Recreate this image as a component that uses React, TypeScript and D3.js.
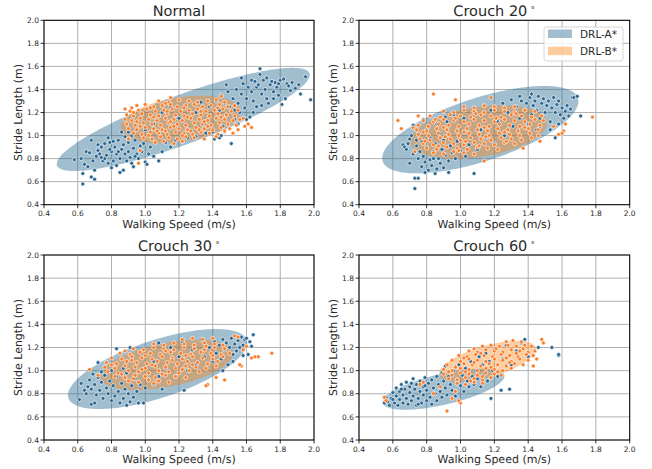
import React from 'react';
import * as d3 from 'd3';

const X_TICKS = [0.4, 0.6, 0.8, 1.0, 1.2, 1.4, 1.6, 1.8, 2.0];
const Y_TICKS = [0.4, 0.6, 0.8, 1.0, 1.2, 1.4, 1.6, 1.8, 2.0];
const SERIES = ['DRL-A*', 'DRL-B*'];
const TITLES = ['Normal', 'Crouch 20', 'Crouch 30', 'Crouch 60'];
const HAS_DEGREE = [false, true, true, true];

// ellipses: [cx, cy, semi-major, semi-minor, angle(deg)] in data units
const ELL_NORMAL_A = [1.225, 1.14, 0.85, 0.2, 29];
const ELL_NORMAL_B = [1.21, 1.14, 0.365, 0.19, 15];
const ELL_C20_A = [1.117, 1.051, 0.642, 0.26, 28];
const ELL_C20_B = [1.107, 1.03, 0.414, 0.213, 15];
const ELL_C30_A = [1.073, 1.014, 0.588, 0.236, 28];
const ELL_C30_B = [1.127, 1.049, 0.41, 0.185, 18];
const ELL_C60_A = [0.9, 0.84, 0.38, 0.13, 20];
const ELL_C60_B = [1.16, 1.08, 0.31, 0.13, 25];

// points: flat [x, y, x, y, ...]
const NORMAL_A = [
  0.58,0.79, 0.62,0.80, 0.63,0.58, 0.63,0.67, 0.64,0.75, 0.65,0.86, 0.66,0.73, 0.67,0.85, 0.68,0.64, 0.68,0.96,
  0.69,0.78, 0.70,0.62, 0.70,0.70, 0.71,0.82, 0.72,0.87, 0.72,0.92, 0.73,0.84, 0.74,0.90, 0.75,0.78, 0.76,0.80,
  0.76,0.93, 0.77,0.83, 0.78,0.76, 0.78,0.98, 0.79,0.94, 0.80,0.86, 0.80,0.72, 0.81,0.78, 0.82,0.90, 0.83,0.84,
  0.83,0.74, 0.84,0.96, 0.85,0.80, 0.85,0.68, 0.86,0.88, 0.86,1.03, 0.87,0.92, 0.87,0.70, 0.88,0.84, 0.88,0.99,
  0.89,0.78, 0.90,0.94, 0.90,0.86, 0.90,1.03, 0.91,0.81, 0.92,1.00, 0.92,0.76, 0.93,0.89, 0.93,0.73, 0.94,0.96,
  0.95,0.84, 0.96,0.80, 0.97,0.91, 0.98,0.86, 1.00,0.77, 1.01,0.75, 1.02,0.84, 1.03,0.90, 1.05,0.82, 1.08,0.78,
  1.10,0.86, 1.12,0.94, 1.15,0.90, 1.18,0.96, 1.22,0.95, 1.25,0.98, 1.30,0.99, 0.74,0.81, 0.79,0.88, 0.84,0.86,
  0.94,0.82, 0.99,0.93, 0.81,0.95,
  1.00,1.05, 1.05,1.10, 1.10,1.20, 1.15,1.25, 1.20,1.15, 1.25,1.05, 1.30,1.20, 1.35,1.10, 1.38,1.25, 1.40,1.03,
  1.42,1.15, 1.33,1.29, 1.36,1.02, 1.44,0.98,
  1.41,0.97, 1.42,1.30, 1.44,1.22, 1.45,1.35, 1.45,1.00, 1.46,1.08, 1.47,1.28, 1.48,1.18, 1.48,1.44, 1.49,1.38,
  1.50,1.25, 1.51,0.93, 1.52,1.32, 1.53,1.14, 1.53,1.22, 1.54,1.40, 1.55,1.28, 1.55,1.10, 1.56,1.20, 1.57,1.36,
  1.57,1.50, 1.58,1.45, 1.59,1.24, 1.60,1.32, 1.60,1.14, 1.61,1.42, 1.62,1.16, 1.63,1.38, 1.63,1.48, 1.64,1.30,
  1.64,1.20, 1.65,1.47, 1.66,1.25, 1.66,1.42, 1.67,1.44, 1.68,1.53, 1.68,1.58, 1.69,1.36, 1.69,1.26, 1.70,1.48,
  1.71,1.40, 1.72,1.32, 1.72,1.50, 1.73,1.28, 1.74,1.44, 1.75,1.47, 1.76,1.38, 1.76,1.32, 1.77,1.46, 1.78,1.42,
  1.79,1.35, 1.79,1.45, 1.80,1.48, 1.81,1.27, 1.82,1.49, 1.83,1.32, 1.84,1.45, 1.85,1.43, 1.86,1.39, 1.87,1.46,
  1.89,1.41, 1.91,1.44, 1.92,1.36, 1.95,1.51, 1.98,1.31,
];
const NORMAL_B = [
  0.88,1.23, 0.92,1.24, 0.96,0.76, 1.12,1.28, 1.15,1.33, 1.58,1.15, 1.59,1.08, 1.63,1.07, 1.61,1.10, 1.45,1.34,
  0.97,0.87, 0.90,0.97, 1.52,1.02, 1.55,1.05,
  1.08,1.30, 1.14,1.29, 1.20,1.31, 1.26,1.30, 1.31,1.29, 1.37,1.30, 1.42,1.31, 1.47,1.29,
  0.95,1.26, 1.00,1.27, 1.05,1.25, 1.10,1.26, 1.15,1.27, 1.19,1.25, 1.24,1.26, 1.29,1.27, 1.34,1.25, 1.39,1.26,
  1.44,1.27, 1.49,1.25, 1.53,1.26,
  0.91,1.21, 0.96,1.22, 1.01,1.23, 1.06,1.21, 1.11,1.22, 1.16,1.23, 1.21,1.21, 1.26,1.22, 1.31,1.23, 1.36,1.21,
  1.41,1.22, 1.46,1.23, 1.51,1.21, 1.55,1.22,
  0.89,1.18, 0.93,1.17, 0.98,1.19, 1.03,1.18, 1.08,1.17, 1.13,1.19, 1.18,1.18, 1.23,1.17, 1.28,1.19, 1.33,1.18,
  1.38,1.17, 1.43,1.19, 1.48,1.18, 1.53,1.17,
  0.88,1.14, 0.92,1.13, 0.97,1.15, 1.02,1.14, 1.07,1.13, 1.12,1.15, 1.17,1.14, 1.22,1.13, 1.27,1.15, 1.32,1.14,
  1.37,1.13, 1.42,1.15, 1.47,1.14, 1.52,1.13, 1.56,1.14,
  0.89,1.10, 0.94,1.09, 0.99,1.11, 1.04,1.10, 1.09,1.09, 1.14,1.11, 1.19,1.10, 1.24,1.09, 1.29,1.11, 1.34,1.10,
  1.39,1.09, 1.44,1.11, 1.49,1.10, 1.54,1.09,
  0.90,1.06, 0.95,1.05, 1.00,1.07, 1.05,1.06, 1.10,1.05, 1.15,1.07, 1.20,1.06, 1.25,1.05, 1.30,1.07, 1.35,1.06,
  1.40,1.05, 1.45,1.07, 1.50,1.06,
  0.93,1.02, 0.98,1.01, 1.03,1.03, 1.08,1.02, 1.13,1.01, 1.18,1.03, 1.23,1.02, 1.28,1.01, 1.33,1.03, 1.38,1.02,
  1.43,1.01, 1.47,1.03,
  0.99,0.98, 1.04,0.97, 1.09,0.99, 1.14,0.98, 1.19,0.97, 1.24,0.99, 1.29,0.98, 1.35,0.97,
  1.06,0.94, 1.11,0.95, 1.17,0.93, 1.22,0.95,
  0.93,1.20, 1.03,1.24, 1.13,1.21, 1.23,1.24, 1.33,1.21, 1.43,1.24, 0.95,1.12, 1.05,1.16, 1.15,1.12, 1.25,1.16,
  1.35,1.12, 1.45,1.16, 0.97,1.08, 1.07,1.04, 1.17,1.08, 1.27,1.04, 1.37,1.08, 1.47,1.04, 1.02,1.00, 1.12,1.04,
  1.22,1.00, 1.32,1.05, 1.42,0.99,
];
const C20_A = [
  0.66,0.92, 0.67,0.90, 0.68,0.88, 0.69,0.93, 0.70,0.76, 0.70,0.97, 0.71,1.00, 0.72,1.09, 0.72,0.84, 0.73,0.54,
  0.73,0.63, 0.74,0.91, 0.75,0.63, 0.75,0.80, 0.76,0.86, 0.77,0.95, 0.77,0.73, 0.78,0.82, 0.78,1.14, 0.79,0.68,
  0.79,0.77, 0.80,0.90, 0.80,1.05, 0.81,0.70, 0.82,0.79, 0.82,0.98, 0.83,0.74, 0.84,0.86, 0.85,0.67, 0.85,0.93,
  0.86,0.71, 0.86,1.10, 0.87,0.80, 0.88,0.76, 0.88,1.02, 0.89,0.88, 0.90,0.72, 0.90,0.96, 0.91,0.83, 0.92,1.12,
  0.93,0.68, 0.93,0.78, 0.94,0.91, 0.95,0.85, 0.96,1.18, 0.97,0.80, 0.98,0.95, 1.00,0.87, 1.02,1.15, 1.03,0.82,
  1.05,0.92, 1.08,0.67, 1.08,1.20, 1.10,0.88, 0.91,1.16, 0.74,0.96, 0.84,0.80,
  1.12,1.05, 1.15,0.98, 1.18,1.22, 1.20,0.93, 1.22,1.12, 1.25,1.28, 1.26,1.00, 1.28,1.20, 1.30,1.31, 1.31,1.08,
  1.33,1.25, 1.35,1.15, 1.36,1.30,
  1.38,1.22, 1.39,1.28, 1.40,1.10, 1.41,1.33, 1.42,1.18, 1.43,1.26, 1.44,1.30, 1.45,1.05, 1.45,1.22, 1.46,1.34,
  1.47,1.15, 1.48,1.28, 1.49,1.32, 1.50,1.20, 1.51,1.26, 1.52,1.30, 1.53,1.12, 1.54,1.24, 1.55,1.33, 1.56,0.98,
  1.56,1.20, 1.57,1.27, 1.58,1.30, 1.59,1.18, 1.60,1.24, 1.61,1.15, 1.62,1.21, 1.63,1.26, 1.64,1.17, 1.65,1.23,
  1.66,1.33, 1.67,1.33, 1.69,1.34, 1.71,1.17, 1.53,1.05, 1.47,1.08, 1.58,1.10, 1.42,1.36, 1.35,1.34,
];
const C20_B = [
  0.63,1.13, 0.65,1.06, 0.75,1.17, 0.84,1.36, 0.97,1.31, 1.78,1.16, 1.62,1.10, 1.61,1.04, 1.60,1.02, 1.47,0.95,
  1.37,0.89, 1.14,0.78, 1.18,1.33, 0.72,1.07, 0.73,0.86, 1.55,1.08, 1.58,1.01,
  1.02,1.25, 1.08,1.24, 1.14,1.26, 1.20,1.25, 1.26,1.24, 1.32,1.25,
  0.90,1.21, 0.96,1.20, 1.02,1.22, 1.08,1.21, 1.14,1.20, 1.20,1.22, 1.26,1.21, 1.32,1.20, 1.38,1.22, 1.44,1.21,
  0.82,1.17, 0.88,1.16, 0.94,1.18, 1.00,1.17, 1.06,1.16, 1.12,1.18, 1.18,1.17, 1.24,1.16, 1.30,1.18, 1.36,1.17,
  1.42,1.16, 1.48,1.17,
  0.78,1.13, 0.84,1.12, 0.90,1.14, 0.96,1.13, 1.02,1.12, 1.08,1.14, 1.14,1.13, 1.20,1.12, 1.26,1.14, 1.32,1.13,
  1.38,1.12, 1.44,1.14, 1.49,1.13,
  0.75,1.09, 0.81,1.08, 0.87,1.10, 0.93,1.09, 0.99,1.08, 1.05,1.10, 1.11,1.09, 1.17,1.08, 1.23,1.10, 1.29,1.09,
  1.35,1.08, 1.41,1.10, 1.47,1.09,
  0.74,1.05, 0.80,1.04, 0.86,1.06, 0.92,1.05, 0.98,1.04, 1.04,1.06, 1.10,1.05, 1.16,1.04, 1.22,1.06, 1.28,1.05,
  1.34,1.04, 1.40,1.06, 1.46,1.05,
  0.75,1.01, 0.81,1.00, 0.87,1.02, 0.93,1.01, 0.99,1.00, 1.05,1.02, 1.11,1.01, 1.17,1.00, 1.23,1.02, 1.29,1.01,
  1.35,1.00, 1.41,1.02, 1.46,1.00,
  0.76,0.97, 0.82,0.96, 0.88,0.98, 0.94,0.97, 1.00,0.96, 1.06,0.98, 1.12,0.97, 1.18,0.96, 1.24,0.98, 1.30,0.97,
  1.36,0.96, 1.42,0.98,
  0.78,0.93, 0.84,0.92, 0.90,0.94, 0.96,0.93, 1.02,0.92, 1.08,0.94, 1.14,0.93, 1.20,0.92, 1.26,0.94, 1.32,0.93,
  0.80,0.89, 0.86,0.88, 0.92,0.90, 0.98,0.89, 1.04,0.88, 1.10,0.90, 1.16,0.89, 1.22,0.88,
  0.84,0.85, 0.90,0.84, 0.96,0.86, 1.02,0.85, 1.08,0.84,
  0.85,1.14, 0.97,1.15, 1.09,1.19, 1.21,1.15, 1.33,1.19, 0.78,1.03, 0.90,1.07, 1.02,1.03, 1.14,1.07, 1.26,1.03,
  1.38,1.07, 0.79,0.95, 0.91,0.99, 1.03,0.95, 1.15,0.99, 1.27,0.95, 0.87,0.91, 0.99,0.87, 1.11,0.91,
];
const C30_A = [
  0.61,0.75, 0.62,0.89, 0.64,0.83, 0.65,0.80, 0.66,0.86, 0.67,0.92, 0.68,0.71, 0.68,0.84, 0.69,0.97, 0.70,0.72,
  0.70,0.88, 0.71,0.79, 0.72,1.07, 0.72,0.94, 0.73,0.83, 0.74,0.90, 0.75,0.76, 0.76,0.96, 0.77,0.85, 0.78,0.80,
  0.79,0.91, 0.80,0.74, 0.81,0.87, 0.82,0.78, 0.83,1.19, 0.83,0.95, 0.84,0.82, 0.85,0.72, 0.86,0.89, 0.87,0.76,
  0.88,0.84, 0.89,0.70, 0.89,0.98, 0.90,0.80, 0.91,1.20, 0.91,0.73, 0.92,0.87, 0.93,0.77, 0.94,0.93, 0.95,0.82,
  0.96,0.72, 0.97,0.88, 0.99,0.72, 1.00,0.85, 1.02,0.92, 1.05,0.88, 1.08,0.95, 1.10,0.84, 1.23,0.83, 0.87,1.02,
  0.80,1.00, 0.74,0.99,
  1.05,1.08, 1.08,1.24, 1.12,1.02, 1.15,1.20, 1.18,0.95, 1.20,1.12, 1.22,1.25, 1.25,1.00, 1.28,1.18, 1.30,1.05,
  1.33,1.27, 1.35,1.12,
  1.38,1.20, 1.40,1.08, 1.41,1.25, 1.42,1.15, 1.44,1.22, 1.45,1.10, 1.46,1.27, 1.47,1.18, 1.48,1.24, 1.49,1.05,
  1.50,1.20, 1.51,1.28, 1.52,1.14, 1.53,1.23, 1.54,1.17, 1.55,1.26, 1.56,1.20, 1.57,1.29, 1.58,1.22, 1.58,1.13,
  1.59,1.27, 1.60,1.28, 1.61,1.14, 1.62,1.25, 1.63,1.21, 1.64,1.31, 1.46,1.00, 1.52,1.08,
];
const C30_B = [
  0.67,1.01, 1.53,1.30, 1.55,1.29, 1.57,1.04, 1.56,1.05, 1.63,1.11, 1.65,1.12, 1.67,1.12, 1.75,1.15, 1.47,0.92,
  1.42,0.94, 1.37,0.88, 1.36,0.87, 1.60,1.21, 1.58,1.18, 0.72,0.96,
  1.22,1.27, 1.28,1.28, 1.34,1.27, 1.40,1.28,
  1.05,1.23, 1.11,1.22, 1.17,1.24, 1.23,1.23, 1.29,1.22, 1.35,1.24, 1.41,1.23, 1.46,1.22,
  0.93,1.19, 0.99,1.18, 1.05,1.20, 1.11,1.19, 1.17,1.18, 1.23,1.20, 1.29,1.19, 1.35,1.18, 1.41,1.20, 1.47,1.19,
  0.85,1.15, 0.91,1.14, 0.97,1.16, 1.03,1.15, 1.09,1.14, 1.15,1.16, 1.21,1.15, 1.27,1.14, 1.33,1.16, 1.39,1.15,
  1.45,1.14, 1.50,1.15,
  0.80,1.11, 0.86,1.10, 0.92,1.12, 0.98,1.11, 1.04,1.10, 1.10,1.12, 1.16,1.11, 1.22,1.10, 1.28,1.12, 1.34,1.11,
  1.40,1.10, 1.46,1.12,
  0.77,1.07, 0.83,1.06, 0.89,1.08, 0.95,1.07, 1.01,1.06, 1.07,1.08, 1.13,1.07, 1.19,1.06, 1.25,1.08, 1.31,1.07,
  1.37,1.06, 1.43,1.08,
  0.76,1.03, 0.82,1.02, 0.88,1.04, 0.94,1.03, 1.00,1.02, 1.06,1.04, 1.12,1.03, 1.18,1.02, 1.24,1.04, 1.30,1.03,
  1.36,1.02, 1.42,1.04,
  0.78,0.99, 0.84,0.98, 0.90,1.00, 0.96,0.99, 1.02,0.98, 1.08,1.00, 1.14,0.99, 1.20,0.98, 1.26,1.00, 1.32,0.99,
  0.82,0.95, 0.88,0.94, 0.94,0.96, 1.00,0.95, 1.06,0.94, 1.12,0.96, 1.18,0.95, 1.24,0.94,
  0.90,0.91, 0.96,0.90, 1.02,0.92, 1.08,0.91, 1.14,0.90,
  0.88,1.17, 1.00,1.13, 1.12,1.17, 1.24,1.13, 1.36,1.21, 0.80,1.05, 0.92,1.09, 1.04,1.05, 1.16,1.09, 1.28,1.05,
  1.40,1.13, 0.86,0.97, 0.98,1.01, 1.10,0.97, 1.22,1.01, 0.93,0.93, 1.05,0.89,
];
const C60_A = [
  0.55,0.72, 0.56,0.77, 0.57,0.73, 0.58,0.70, 0.59,0.76, 0.60,0.81, 0.61,0.72, 0.62,0.78, 0.62,0.85, 0.63,0.70,
  0.64,0.75, 0.64,0.82, 0.65,0.88, 0.66,0.72, 0.66,0.79, 0.67,0.84, 0.68,0.76, 0.68,0.90, 0.69,0.71, 0.70,0.81,
  0.70,0.86, 0.71,0.74, 0.72,0.78, 0.72,0.93, 0.73,0.84, 0.74,0.70, 0.74,0.88, 0.75,0.76, 0.76,0.82, 0.76,0.91,
  0.77,0.72, 0.78,0.86, 0.78,0.79, 0.79,0.94, 0.80,0.74, 0.80,0.83, 0.81,0.89, 0.82,0.77, 0.83,0.92, 0.83,0.71,
  0.84,0.85, 0.85,0.80, 0.86,0.95, 0.86,0.74, 0.87,0.88, 0.88,0.82, 0.89,0.98, 0.89,0.77, 0.90,0.91, 0.91,0.85,
  0.91,1.04, 0.92,0.79, 0.93,0.95, 0.94,0.88, 0.95,0.83, 0.96,1.00, 0.97,0.78, 0.98,0.92, 0.99,1.05, 1.00,0.87,
  1.01,0.96, 1.02,0.82, 1.03,1.02, 1.04,0.91, 1.05,0.86, 1.06,1.08, 1.07,0.95, 1.08,0.88, 1.09,1.00, 1.10,0.93,
  1.11,1.12, 1.12,0.86, 1.13,1.05, 1.14,0.97, 1.15,1.15, 1.16,0.91, 1.17,1.08, 1.18,0.76, 1.19,1.00, 1.20,1.18,
  1.22,0.95, 1.24,0.83, 1.25,1.10, 1.27,1.22, 1.29,0.84, 1.30,1.05, 1.33,1.17, 1.36,1.24, 1.38,1.27, 1.40,1.12,
  1.54,1.20, 1.58,1.13, 1.58,1.14, 1.46,1.20, 0.60,0.75, 0.71,0.89, 0.65,0.84, 0.75,0.71, 0.79,0.87,
];
const C60_B = [
  0.55,0.77, 0.56,0.74, 0.92,0.65, 0.76,0.88, 0.78,0.90, 1.48,1.27, 1.49,1.24, 1.43,1.04, 1.00,0.72, 0.99,0.74,
  0.88,0.86, 0.84,0.80, 0.95,0.76, 0.97,0.82, 1.45,1.10,
  1.27,1.25, 1.31,1.26, 1.36,1.25,
  1.13,1.21, 1.18,1.22, 1.23,1.21, 1.28,1.22, 1.33,1.21, 1.38,1.22, 1.42,1.21,
  1.05,1.17, 1.10,1.16, 1.15,1.18, 1.20,1.17, 1.25,1.16, 1.30,1.18, 1.35,1.17, 1.40,1.16, 1.44,1.17,
  0.99,1.13, 1.04,1.12, 1.09,1.14, 1.14,1.13, 1.19,1.12, 1.24,1.14, 1.29,1.13, 1.34,1.12, 1.39,1.14, 1.43,1.13,
  0.95,1.09, 1.00,1.08, 1.05,1.10, 1.10,1.09, 1.15,1.08, 1.20,1.10, 1.25,1.09, 1.30,1.08, 1.35,1.10, 1.40,1.09,
  0.92,1.05, 0.97,1.04, 1.02,1.06, 1.07,1.05, 1.12,1.04, 1.17,1.06, 1.22,1.05, 1.27,1.04, 1.32,1.06, 1.37,1.05,
  0.90,1.01, 0.95,1.00, 1.00,1.02, 1.05,1.01, 1.10,1.00, 1.15,1.02, 1.20,1.01, 1.25,1.00, 1.30,1.02,
  0.90,0.97, 0.95,0.96, 1.00,0.98, 1.05,0.97, 1.10,0.96, 1.15,0.98, 1.20,0.97, 1.24,0.96,
  0.93,0.93, 0.98,0.92, 1.03,0.94, 1.08,0.93, 1.13,0.92, 1.18,0.94,
  0.98,0.89, 1.03,0.88, 1.08,0.90, 1.13,0.89,
  1.08,1.19, 1.21,1.19, 1.33,1.15, 1.02,1.11, 1.12,1.15, 1.27,1.11, 1.37,1.19, 0.97,1.03, 1.08,1.07, 1.18,1.03,
  1.29,1.07, 0.93,0.99, 1.03,0.99, 1.13,0.95, 1.22,0.99, 1.06,0.91,
];

const POINTS_A = [NORMAL_A, C20_A, C30_A, C60_A];
const POINTS_B = [NORMAL_B, C20_B, C30_B, C60_B];
const ELLS_A = [ELL_NORMAL_A, ELL_C20_A, ELL_C30_A, ELL_C60_A];
const ELLS_B = [ELL_NORMAL_B, ELL_C20_B, ELL_C30_B, ELL_C60_B];

const W = 652;
const H = 469;
const FONT = "'DejaVu Sans', 'Liberation Sans', sans-serif";
const BLUE_FILL = '#2f6f94';
const BLUE_FILL_OP = 0.45;
const ORANGE_FILL = '#ff7f0e';
const ORANGE_FILL_OP = 0.4;
const BLUE_PT = '#2b6891';
const ORANGE_PT = '#f97f2c';
const TEXT_COL = '#2a2a2a';

const PANELS = [
  { x0: 44, x1: 314, y0: 20.3, y1: 204.7 },
  { x0: 359, x1: 629.7, y0: 20.3, y1: 204.7 },
  { x0: 44, x1: 314, y0: 255, y1: 440 },
  { x0: 359, x1: 629.7, y0: 255, y1: 440 },
];

function pairs(flat: number[]): [number, number][] {
  const out: [number, number][] = [];
  for (let i = 0; i + 1 < flat.length; i += 2) out.push([flat[i], flat[i + 1]]);
  return out;
}

function ellipsePath(e: number[], sx: d3.ScaleLinear<number, number>, sy: d3.ScaleLinear<number, number>) {
  const [cx, cy, a, b, deg] = e;
  const t = (deg * Math.PI) / 180;
  const pts = d3.range(0, 360, 2).map((k) => {
    const u = (k * Math.PI) / 180;
    const ex = a * Math.cos(u);
    const ey = b * Math.sin(u);
    return [sx(cx + ex * Math.cos(t) - ey * Math.sin(t)), sy(cy + ex * Math.sin(t) + ey * Math.cos(t))] as [number, number];
  });
  return d3.line().curve(d3.curveLinearClosed)(pts) || '';
}

function Panel({ idx }: { idx: number }) {
  const p = PANELS[idx];
  const sx = d3.scaleLinear().domain([0.4, 2.0]).range([p.x0, p.x1]);
  const sy = d3.scaleLinear().domain([0.4, 2.0]).range([p.y1, p.y0]);
  const cx = (p.x0 + p.x1) / 2;
  const cy = (p.y0 + p.y1) / 2;
  const clipId = `clip${idx}`;
  return (
    <g>
      <defs>
        <clipPath id={clipId}>
          <rect x={p.x0} y={p.y0} width={p.x1 - p.x0} height={p.y1 - p.y0} />
        </clipPath>
      </defs>
      <rect x={p.x0} y={p.y0} width={p.x1 - p.x0} height={p.y1 - p.y0} fill="white" />
      {X_TICKS.map((t) => (
        <line key={'gx' + t} x1={sx(t)} x2={sx(t)} y1={p.y0} y2={p.y1} stroke="#b0b0b0" strokeWidth={1} />
      ))}
      {Y_TICKS.map((t) => (
        <line key={'gy' + t} x1={p.x0} x2={p.x1} y1={sy(t)} y2={sy(t)} stroke="#b0b0b0" strokeWidth={1} />
      ))}
      <g clipPath={`url(#${clipId})`}>
        <path d={ellipsePath(ELLS_A[idx], sx, sy)} fill={BLUE_FILL} fillOpacity={BLUE_FILL_OP} />
        <path d={ellipsePath(ELLS_B[idx], sx, sy)} fill={ORANGE_FILL} fillOpacity={ORANGE_FILL_OP} />
        {pairs(POINTS_A[idx]).map(([x, y], i) => (
          <circle key={'a' + i} cx={sx(x)} cy={sy(y)} r={2.0} fill={BLUE_PT} stroke="#ffffff" strokeWidth={0.7} strokeOpacity={0.9} />
        ))}
        {pairs(POINTS_B[idx]).map(([x, y], i) => (
          <circle key={'b' + i} cx={sx(x)} cy={sy(y)} r={2.0} fill={ORANGE_PT} stroke="#ffffff" strokeWidth={0.7} strokeOpacity={0.9} />
        ))}
      </g>
      <rect x={p.x0} y={p.y0} width={p.x1 - p.x0} height={p.y1 - p.y0} fill="none" stroke="#000" strokeWidth={1} />
      {X_TICKS.map((t) => (
        <g key={'tx' + t}>
          <line x1={sx(t)} x2={sx(t)} y1={p.y1} y2={p.y1 + 3.5} stroke="#000" strokeWidth={0.8} />
          <text x={sx(t)} y={p.y1 + 11.5} textAnchor="middle" fontSize={7.5} fontWeight={400} fill={TEXT_COL} fontFamily={FONT}>
            {t.toFixed(1)}
          </text>
        </g>
      ))}
      {Y_TICKS.map((t) => (
        <g key={'ty' + t}>
          <line x1={p.x0 - 3.5} x2={p.x0} y1={sy(t)} y2={sy(t)} stroke="#000" strokeWidth={0.8} />
          <text x={p.x0 - 5} y={sy(t) + 2.7} textAnchor="end" fontSize={7.5} fontWeight={400} fill={TEXT_COL} fontFamily={FONT}>
            {t.toFixed(1)}
          </text>
        </g>
      ))}
      <text x={cx} y={p.y1 + 23} textAnchor="middle" fontSize={11} fontWeight={400} fill={TEXT_COL} fontFamily={FONT} textRendering="geometricPrecision">
        Walking Speed (m/s)
      </text>
      <text
        transform={`translate(${p.x0 - 25.5},${cy}) rotate(-90)`}
        textAnchor="middle"
        fontSize={11}
        fontWeight={400}
        fill={TEXT_COL}
        fontFamily={FONT}
        textRendering="geometricPrecision"
        dy="0.35em"
      >
        Stride Length (m)
      </text>
      <text x={cx} y={p.y0 - 4.5} textAnchor="middle" fontSize={14.5} fontWeight={400} fill={TEXT_COL} fontFamily={FONT} textRendering="geometricPrecision">
        {TITLES[idx]}
        {HAS_DEGREE[idx] ? (
          <tspan dx={3} dy={-6} fontSize={8}>
            ∘
          </tspan>
        ) : null}
      </text>
    </g>
  );
}

function Legend() {
  const x = 544;
  const y = 27;
  return (
    <g fontFamily={FONT} fontWeight={400}>
      <rect x={x} y={y} width={79} height={34} rx={2.5} fill="white" fillOpacity={0.85} stroke="#cccccc" strokeWidth={0.8} />
      {SERIES.map((s, i) => (
        <g key={s}>
          <rect
            x={x + 4}
            y={y + 2.5 + i * 17.2}
            width={24}
            height={8.5}
            fill={i === 0 ? BLUE_FILL : ORANGE_FILL}
            fillOpacity={i === 0 ? BLUE_FILL_OP : ORANGE_FILL_OP}
          />
          <text x={x + 36} y={y + 10.8 + i * 17.2} fontSize={10.5} fill={TEXT_COL}>
            {s}
          </text>
        </g>
      ))}
    </g>
  );
}

export default function App() {
  return (
    <svg width={W} height={H} style={{ display: 'block', position: 'absolute', left: 0, top: 0, background: 'white' }}>
      <rect x={0} y={0} width={W} height={H} fill="white" />
      {[0, 1, 2, 3].map((i) => (
        <Panel key={i} idx={i} />
      ))}
      <Legend />
    </svg>
  );
}
